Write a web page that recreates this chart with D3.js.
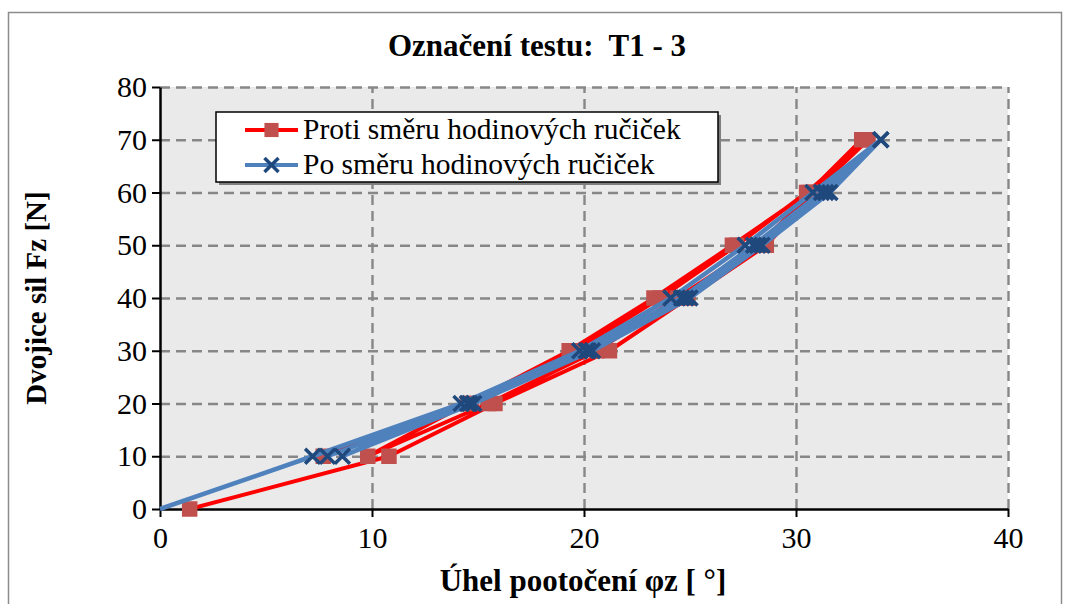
<!DOCTYPE html>
<html>
<head>
<meta charset="utf-8">
<script src="https://cdn.jsdelivr.net/npm/d3@7/dist/d3.min.js"></script>
<style>
  html, body { margin: 0; padding: 0; background: #ffffff; }
  svg { display: block; }
  text { font-family: "Liberation Serif", "Times New Roman", serif; fill: #000; white-space: pre; }
</style>
</head>
<body>
<svg id="chart" width="1069" height="604"></svg>
<script>
// Torsion test T1 - 3: applied couple Fz versus rotation angle, two directions,
// two loading/unloading cycles each.
const titleText = "Označení testu:  T1 - 3";
const xTitle = "Úhel pootočení φz [ °]";
const yTitle = "Dvojice sil Fz [N]";
const seriesNames = ["Proti směru hodinových ručiček", "Po směru hodinových ručiček"];

const xTicks = [0, 10, 20, 30, 40];
const yTicks = [0, 10, 20, 30, 40, 50, 60, 70, 80];

// force sequence: load 0→70, unload 70→10, reload 10→70, unload 70→10
const redForce  = [0, 10, 20, 30, 40, 50, 60, 70, 60, 50, 40, 30, 20, 10, 20, 30, 40, 50, 60, 70, 60, 50, 40, 30, 20, 10];
const redAngle  = [1.4, 10.8, 15.8, 21.2, 24.9, 28.6, 30.9, 33.1, 30.6, 27.0, 23.3, 19.3, 14.5, 9.8, 15.5, 20.6, 24.4, 28.2, 30.8, 33.4, 30.5, 27.2, 23.6, 19.6, 14.7, 7.7];
const blueForce = [0, 10, 20, 30, 40, 50, 60, 70, 60, 50, 40, 30, 20, 10, 20, 30, 40, 50, 60, 70, 60, 50, 40, 30, 20, 10];
const blueAngle = [0.0, 7.2, 14.2, 19.8, 24.1, 27.6, 30.8, 34.0, 31.6, 28.4, 25.0, 20.4, 14.8, 8.6, 14.5, 20.1, 24.6, 28.0, 31.2, 34.0, 31.4, 28.2, 24.8, 20.2, 14.6, 7.9];

const svg = d3.select("#chart");
const plot = { left: 160, right: 1008, top: 87, bottom: 509 };

const x = d3.scaleLinear().domain([0, 40]).range([plot.left, plot.right]);
const y = d3.scaleLinear().domain([0, 80]).range([plot.bottom, plot.top]);

// chart frame
svg.append("rect")
  .attr("x", 8.5).attr("y", 12.5)
  .attr("width", 1053).attr("height", 620)
  .attr("fill", "#ffffff").attr("stroke", "#8c8c8c").attr("stroke-width", 1.5);

// plot background
svg.append("rect")
  .attr("x", plot.left).attr("y", plot.top)
  .attr("width", plot.right - plot.left).attr("height", plot.bottom - plot.top)
  .attr("fill", "#eaeaea");

// dashed gridlines
const gridStyle = g => {
  g.select(".domain").remove();
  g.selectAll("line").attr("stroke", "#878787").attr("stroke-width", 2.4).attr("stroke-dasharray", "10,6");
};
svg.append("g")
  .attr("transform", `translate(${plot.left},0)`)
  .call(d3.axisLeft(y).tickValues(yTicks.filter(v => v > 0)).tickSize(-(plot.right - plot.left)).tickFormat(""))
  .call(gridStyle);
svg.append("g")
  .attr("transform", `translate(0,${plot.bottom})`)
  .call(d3.axisBottom(x).tickValues(xTicks.filter(v => v > 0)).tickSize(-(plot.bottom - plot.top)).tickFormat(""))
  .call(gridStyle);

// axes
const axisStyle = g => {
  g.select(".domain").attr("stroke", "#000").attr("stroke-width", 2.5);
  g.selectAll(".tick line").attr("stroke", "#000").attr("stroke-width", 2);
  g.selectAll(".tick text")
    .style("font-family", "'Liberation Serif', 'Times New Roman', serif")
    .style("font-size", "30px").attr("fill", "#000");
};
svg.append("g")
  .attr("transform", `translate(${plot.left},0)`)
  .call(d3.axisLeft(y).tickValues(yTicks).tickSize(8).tickSizeOuter(0).tickPadding(5))
  .call(axisStyle);
svg.append("g")
  .attr("transform", `translate(0,${plot.bottom})`)
  .call(d3.axisBottom(x).tickValues(xTicks).tickSize(8).tickSizeOuter(0).tickPadding(10))
  .call(axisStyle);

// series
const redPts = redAngle.map((a, i) => ({ a, f: redForce[i] }));
const bluePts = blueAngle.map((a, i) => ({ a, f: blueForce[i] }));
const line = d3.line().x(d => x(d.a)).y(d => y(d.f));

svg.append("path").datum(redPts)
  .attr("d", line).attr("fill", "none")
  .attr("stroke", "#ff0000").attr("stroke-width", 4).attr("stroke-linejoin", "round");
svg.append("g").selectAll("path").data(redPts).join("path")
  .attr("transform", d => `translate(${x(d.a)},${y(d.f)})`)
  .attr("d", d3.symbol(d3.symbolSquare, 240))
  .attr("fill", "#c0504d");

svg.append("path").datum(bluePts)
  .attr("d", line).attr("fill", "none")
  .attr("stroke", "#4f81bd").attr("stroke-width", 4.5).attr("stroke-linejoin", "round");
svg.append("g").selectAll("path").data(bluePts.filter(d => d.f > 0)).join("path")
  .attr("transform", d => `translate(${x(d.a)},${y(d.f)})`)
  .attr("d", d3.symbol(d3.symbolX, 150))
  .attr("fill", "none").attr("stroke", "#1f497d").attr("stroke-width", 3.5);

// legend
const lg = { x: 216, y: 112, w: 502, h: 70 };
svg.append("rect")
  .attr("x", lg.x + 3).attr("y", lg.y + 3).attr("width", lg.w).attr("height", lg.h)
  .attr("fill", "#7f7f7f");
svg.append("rect")
  .attr("x", lg.x).attr("y", lg.y).attr("width", lg.w).attr("height", lg.h)
  .attr("fill", "#ffffff").attr("stroke", "#000").attr("stroke-width", 1.5);

const legendItems = [
  { name: seriesNames[0], color: "#ff0000", mcolor: "#c0504d", sym: d3.symbolSquare, size: 200, filled: true, ly: 130 },
  { name: seriesNames[1], color: "#4f81bd", mcolor: "#1f497d", sym: d3.symbolX, size: 130, filled: false, ly: 165 }
];
legendItems.forEach(it => {
  svg.append("line")
    .attr("x1", 245).attr("x2", 298).attr("y1", it.ly).attr("y2", it.ly)
    .attr("stroke", it.color).attr("stroke-width", 4);
  svg.append("path")
    .attr("transform", `translate(271.5,${it.ly})`)
    .attr("d", d3.symbol(it.sym, it.size))
    .attr("fill", it.filled ? it.mcolor : "none")
    .attr("stroke", it.filled ? "none" : it.mcolor)
    .attr("stroke-width", 3.5);
  svg.append("text")
    .attr("x", 303).attr("y", it.ly + 9)
    .style("font-size", "29.5px")
    .text(it.name);
});

// titles
svg.append("text")
  .attr("x", 537).attr("y", 56)
  .attr("text-anchor", "middle")
  .style("font-size", "31px").style("font-weight", "bold")
  .text(titleText);
svg.append("text")
  .attr("x", 583).attr("y", 591)
  .attr("text-anchor", "middle")
  .style("font-size", "31px").style("font-weight", "bold")
  .text(xTitle);
svg.append("text")
  .attr("transform", `translate(46,${(plot.top + plot.bottom) / 2}) rotate(-90)`)
  .attr("text-anchor", "middle")
  .style("font-size", "29px").style("font-weight", "bold")
  .text(yTitle);
</script>
</body>
</html>
